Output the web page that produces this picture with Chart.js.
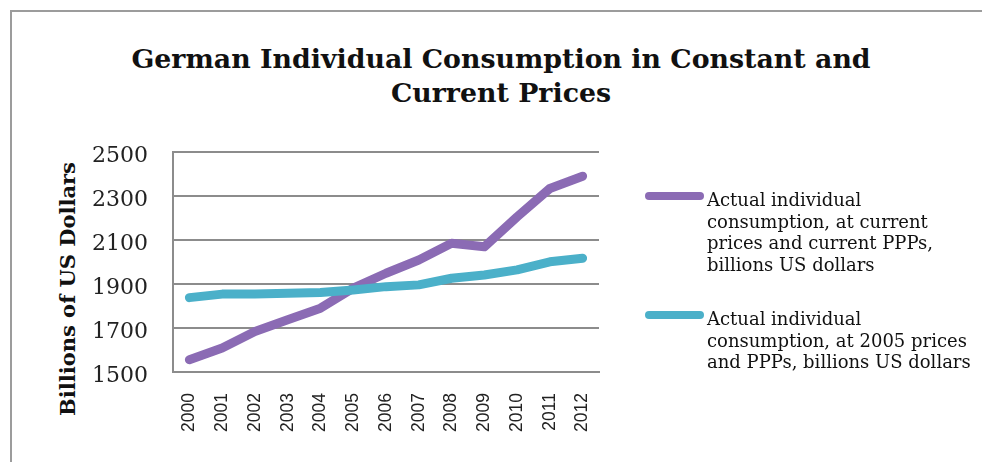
<!DOCTYPE html>
<html>
<head>
<meta charset="utf-8">
<script src="https://cdn.jsdelivr.net/npm/chart.js@4"></script>
<style>
html, body { margin: 0; padding: 0; background: #fff; width: 982px; height: 462px; overflow: hidden; }
#frame { position: absolute; left: 10px; top: 10px; width: 1000px; height: 500px; border-left: 2px solid #9c9c9c; border-top: 2px solid #9c9c9c; }
#title { position: absolute; left: 20px; width: 962px; top: 42px; text-align: center; font: bold 26.8px/34px "DejaVu Serif", serif; color: #111; }
#ytitle { position: absolute; left: 67px; top: 289px; transform: translate(-50%, -50%) rotate(-90deg); white-space: nowrap; font: bold 21px "DejaVu Serif", serif; color: #111; }
#chart { position: absolute; left: 0; top: 0; }
.item { position: absolute; left: 645px; }
.swatch { position: absolute; left: 0; width: 59px; height: 8px; border-radius: 4px; }
.text { position: absolute; left: 62px; top: 0; font: 18px/21.5px "DejaVu Serif", serif; color: #111; white-space: nowrap; }
</style>
</head>
<body>
<div id="frame"></div>
<div id="title">German Individual Consumption in Constant and<br>Current Prices</div>
<div id="ytitle">Billions of US Dollars</div>
<canvas id="chart" width="982" height="462"></canvas>
<div id="legend"></div>
<script>
const years = ['2000','2001','2002','2003','2004','2005','2006','2007','2008','2009','2010','2011','2012'];
const currentPrices = [1556, 1609, 1684, 1737, 1790, 1881, 1949, 2009, 2085, 2069, 2205, 2334, 2390];
const constantPrices = [1838, 1854, 1855, 1858, 1861, 1873, 1888, 1896, 1926, 1941, 1964, 2001, 2017];
const yTickValues = [1500, 1700, 1900, 2100, 2300, 2500];
const currentLabel = ['Actual individual', 'consumption, at current', 'prices and current PPPs,', 'billions US dollars'];
const constantLabel = ['Actual individual', 'consumption, at 2005 prices', 'and PPPs, billions US dollars'];

const purple = '#8B6BB4';
const cyan = '#4BB0C9';
const gridGray = '#8c8c8c';

const chart = new Chart(document.getElementById('chart'), {
  type: 'line',
  data: {
    labels: years,
    datasets: [
      { label: currentLabel.join(' '), data: currentPrices, borderColor: purple, backgroundColor: purple, order: 1 },
      { label: constantLabel.join(' '), data: constantPrices, borderColor: cyan, backgroundColor: cyan, order: 0 }
    ]
  },
  options: {
    responsive: false,
    animation: false,
    devicePixelRatio: 1,
    layout: { padding: { left: 60, top: 152, right: 383, bottom: 0 } },
    plugins: { legend: { display: false }, title: { display: false }, tooltip: { enabled: false } },
    elements: {
      point: { radius: 0, hoverRadius: 0 },
      line: { tension: 0, borderWidth: 9, borderCapStyle: 'round', borderJoinStyle: 'round', fill: false }
    },
    scales: {
      x: {
        offset: true,
        grid: { display: false },
        border: { display: true, color: gridGray, width: 2 },
        ticks: {
          autoSkip: false, minRotation: 90, maxRotation: 90, padding: 13,
          font: { family: '"Liberation Sans", Arial, sans-serif', size: 17.5 },
          color: '#222'
        },
        afterFit(s) { s.height = 90; }
      },
      y: {
        min: 1500, max: 2500,
        afterBuildTicks(s) { s.ticks = yTickValues.map(v => ({ value: v })); },
        grid: { color: gridGray, lineWidth: 2, drawTicks: false },
        border: { display: true, color: gridGray, width: 2 },
        ticks: {
          padding: 25,
          labelOffset: 4,
          font: { family: '"DejaVu Serif", serif', size: 22 },
          color: '#222',
          callback: (v) => String(v)
        },
        afterFit(s) { s.width = 113; }
      }
    }
  }
});

// HTML legend built from the datasets
const legendLines = [currentLabel, constantLabel];
const legendTops = [189, 308];
const legend = document.getElementById('legend');
chart.data.datasets.forEach((ds, i) => {
  const item = document.createElement('div');
  item.className = 'item';
  item.style.top = legendTops[i] + 'px';
  const sw = document.createElement('div');
  sw.className = 'swatch';
  sw.style.top = '3px';
  sw.style.background = ds.borderColor;
  const tx = document.createElement('div');
  tx.className = 'text';
  tx.innerHTML = legendLines[i].join('<br>');
  item.appendChild(sw);
  item.appendChild(tx);
  legend.appendChild(item);
});
</script>
</body>
</html>
